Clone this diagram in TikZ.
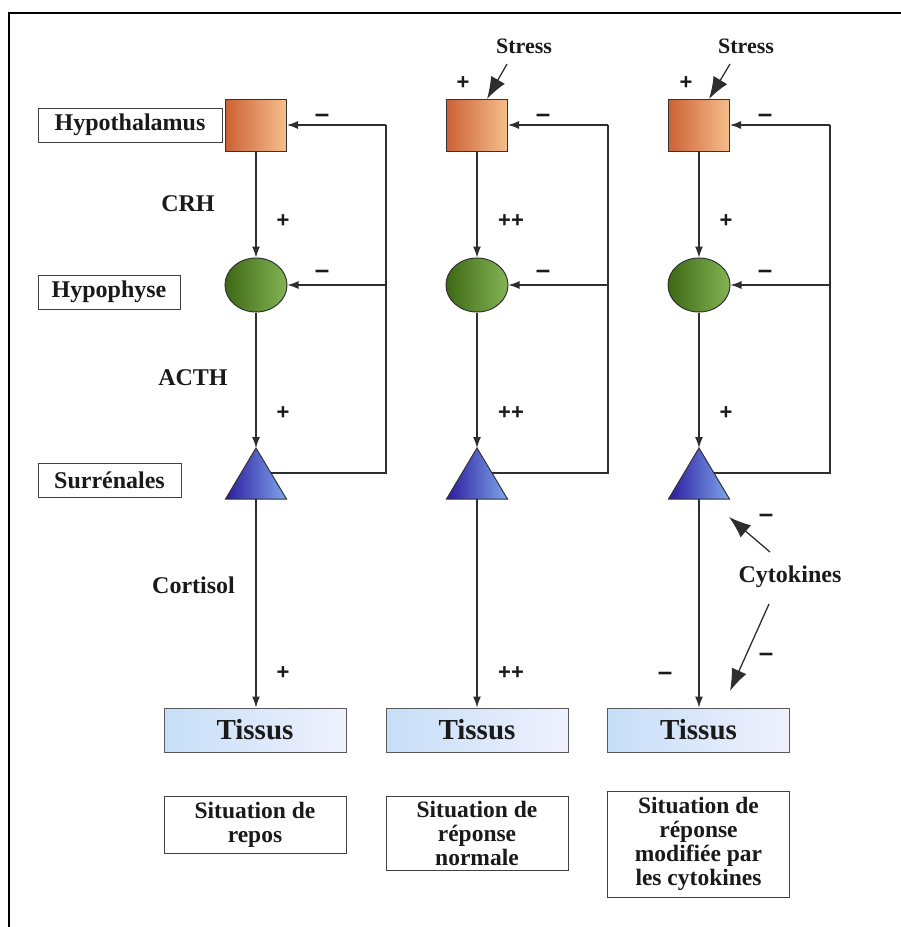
\documentclass[tikz,border=0pt]{standalone}
\usepackage{fontspec}
\setmainfont{Liberation Serif}
\newfontfamily\signfont{Liberation Sans}
\usetikzlibrary{arrows.meta,shapes.geometric}

\definecolor{hypoD}{HTML}{CC6236}
\definecolor{hypoL}{HTML}{F6BE8C}
\definecolor{pitD}{HTML}{3D6814}
\definecolor{pitL}{HTML}{84B454}
\definecolor{adrD}{HTML}{2B1C9E}
\definecolor{adrL}{HTML}{7EA6EC}
\definecolor{tisD}{HTML}{C6DEF8}
\definecolor{tisL}{HTML}{EFF1FD}
\definecolor{wire}{HTML}{2E2E2E}
\definecolor{ink}{HTML}{1A1A1A}

\tikzset{
  lbl/.style={draw=black!75, line width=1pt, fill=white, inner sep=0pt, text=ink,
    minimum height=34pt, font=\bfseries\fontsize{24}{24}\selectfont},
  hypobox/.style={rectangle, draw=black!80, line width=1pt, inner sep=0pt,
    minimum width=61pt, minimum height=52pt, left color=hypoD, right color=hypoL},
  pitbox/.style={ellipse, draw=black!80, line width=1pt, inner sep=0pt,
    minimum width=62pt, minimum height=54pt, left color=pitD, right color=pitL},
  adrshape/.style={draw=black!80, line width=1pt, left color=adrD, right color=adrL},
  tisbox/.style={draw=black!65, line width=1pt, inner sep=0pt, text=ink,
    minimum width=182pt, minimum height=44pt, left color=tisD, right color=tisL,
    font=\bfseries\fontsize{29}{29}\selectfont},
  sitbox/.style={draw=black!75, line width=1pt, fill=white, inner sep=0pt, text=ink,
    minimum width=182pt, align=center, font=\bfseries\fontsize{23.5}{24}\selectfont},
  wirearrow/.style={draw=wire, line width=1.1pt, -{Latex[length=11pt,width=8pt]}},
  wireline/.style={draw=wire, line width=1.1pt},
  bigarrow/.style={draw=wire, line width=1.3pt, -{Latex[length=22pt,width=16pt]}},
  sign/.style={inner sep=0pt, text=ink, font=\signfont\bfseries\fontsize{22}{22}\selectfont},
  minus/.style={inner sep=0pt, text=ink, font=\signfont\bfseries\fontsize{26}{26}\selectfont},
  txt/.style={inner sep=0pt, text=ink, font=\bfseries\fontsize{24}{24}\selectfont},
}

\begin{document}
\begin{tikzpicture}[x=1pt,y=-1pt]
\useasboundingbox (0,0) rectangle (901,927);

% frame
\draw[line width=1.6pt] (9,927) -- (9,13) -- (901,13);

% left-hand labels
\node[lbl, minimum width=184pt] (lhyp) at (130,125) {Hypothalamus};
\node[lbl, minimum width=142pt] (lpit) at (109,292) {Hypophyse};
\node[lbl, minimum width=143pt] (ladr) at (109.5,480.5) {Surrénales};

% hormone names
\node[txt] (crh) at (188,204) {CRH};
\node[txt] (acth) at (193,378) {ACTH};
\node[txt] (cort) at (193.5,585) {Cortisol};

% three columns: hypothalamus, pituitary, adrenals
\foreach \i/\x/\fb in {1/256/386, 2/477/608, 3/699/830} {
  \node[hypobox] (h\i) at (\x,125) {};
  \node[pitbox] (p\i) at (\x,285) {};
  \coordinate (ta\i) at (\x,448);
  \coordinate (tb\i) at (\x,499);
  \coordinate (tr\i) at (\x+15,473);
  \path[adrshape] (ta\i) -- (\x+30.5,499) -- (\x-30.5,499) -- cycle;
  \coordinate (k\i) at (\fb,125);
  % descending axis
  \draw[wirearrow] (h\i.south) -- (p\i.north);
  \draw[wirearrow] (p\i.south) -- (ta\i);
  % negative feedback loop
  \draw[wireline] (tr\i) -| (k\i);
  \draw[wirearrow] (k\i) -- (h\i.east);
  \draw[wirearrow] (k\i |- p\i) -- (p\i.east);
  \node[minus] (mh\i) at (\x+66,118) {–};
  \node[minus] (mp\i) at (\x+66,274) {–};
}

% tissues
\node[tisbox] (t1) at (255,730) {Tissus};
\node[tisbox] (t2) at (477,730) {Tissus};
\node[tisbox] (t3) at (698.5,730) {Tissus};
\draw[wirearrow] (tb1) -- (tb1 |- t1.north);
\draw[wirearrow] (tb2) -- (tb2 |- t2.north);
\draw[wirearrow] (tb3) -- (tb3 |- t3.north);

% situations
\node[sitbox, minimum height=57pt] (s1) at (255,824.5) {Situation de\\repos};
\node[sitbox, minimum height=74pt] (s2) at (477,833) {Situation de\\réponse\\normale};
\node[sitbox, minimum height=106pt] (s3) at (698.5,844) {Situation de\\réponse\\modifiée par\\les cytokines};

% signs along the axis
\node[sign] (a1) at (283,221) {+};
\node[sign] (b1) at (283,413) {+};
\node[sign] (c1) at (283,673) {+};
\node[sign] (a2) at (511,221) {++};
\node[sign] (b2) at (511,413) {++};
\node[sign] (c2) at (511,673) {++};
\node[sign] (a3) at (726,221) {+};
\node[sign] (b3) at (726,413) {+};
\node[minus] (c3) at (665,676) {–};

% stress inputs
\node[txt, font=\bfseries\fontsize{22}{22}\selectfont] (st2) at (524,46) {Stress};
\node[txt, font=\bfseries\fontsize{22}{22}\selectfont] (st3) at (746,46) {Stress};
\coordinate (st2a) at (507,64);
\coordinate (st2b) at (487,99);
\coordinate (st3a) at (730,64);
\coordinate (st3b) at (709,99);
\draw[bigarrow] (st2a) -- (st2b);
\draw[bigarrow] (st3a) -- (st3b);
\node[sign] (sp2) at (463,83) {+};
\node[sign] (sp3) at (686,83) {+};

% cytokines
\node[txt] (cy) at (790,577) {Cytokines};
\coordinate (cya) at (770,552);
\coordinate (cyb) at (729,517);
\coordinate (cyc) at (769,604);
\coordinate (cyd) at (730,691);
\draw[bigarrow] (cya) -- (cyb);
\draw[bigarrow] (cyc) -- (cyd);
\node[minus] (cm1) at (766,518) {–};
\node[minus] (cm2) at (766,657) {–};
\end{tikzpicture}
\end{document}
